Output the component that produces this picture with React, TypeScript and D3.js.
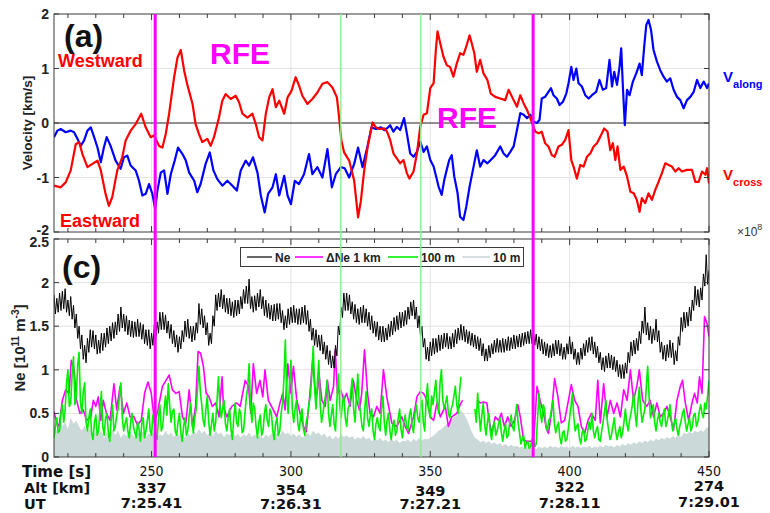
import React from "react";
import * as d3 from "d3";

// ---- data -------------------------------------------------------------
const timeTicks = [250, 300, 350, 400, 450];
const altLabels = ["337", "354", "349", "322", "274"];
const utLabels = ["7:25.41", "7:26.31", "7:27.21", "7:28.11", "7:29.01"];
const rfeEdges = [251.3, 386.9];
const boundaryTimes = [317.9, 346.6];

// velocity components [time s, km/s]
const vCross: [number, number][] = [
  [215.0, -1.15], [217.4, -1.18], [219.2, -1.09], [221.0, -0.87], [222.8, -0.39], [224.0, -0.35], [225.2, -0.57],
  [227.0, -0.81], [228.8, -0.75], [230.6, -0.69], [231.8, -0.87], [233.5, -1.3], [234.7, -1.52], [235.9, -1.36],
  [237.7, -0.87], [239.5, -0.63], [240.7, -0.32], [242.5, -0.14], [244.3, -0.02], [246.3, 0.17], [247.9, -0.08],
  [249.7, -0.26], [250.9, -0.23], [252.7, -0.42], [253.9, -0.45], [255.1, -0.2], [256.3, 0.17], [258.1, 0.84],
  [259.3, 1.2], [260.5, 1.34], [261.7, 0.96], [262.9, 0.69], [264.7, 0.35], [265.8, -0.02], [267.0, -0.2],
  [268.2, -0.35], [270.0, -0.29], [271.2, -0.42], [272.4, -0.26], [274.2, 0.1], [275.4, 0.41], [276.6, 0.53],
  [278.4, 0.44], [280.2, 0.5], [281.4, 0.38], [282.6, 0.17], [284.4, 0.1], [286.2, 0.17], [287.4, -0.02],
  [288.6, -0.26], [289.8, -0.32], [291.0, 0.17], [292.2, 0.47], [293.4, 0.62], [294.6, 0.29], [295.8, 0.41],
  [297.6, 0.17], [298.8, 0.47], [300.2, 0.59], [301.7, 0.84], [302.9, 0.69], [304.1, 0.5], [305.9, 0.35],
  [307.7, 0.44], [309.5, 0.56], [311.3, 0.72], [313.1, 0.75], [314.9, 0.65], [316.5, 0.47], [317.3, 0.1],
  [318.1, -0.32], [319.1, -0.54], [320.9, -0.69], [322.7, -1.06], [324.1, -1.73], [325.1, -1.43], [326.3, -0.87],
  [327.5, -0.45], [329.3, 0.01], [330.5, -0.08], [331.7, -0.11], [333.5, -0.1], [334.4, -0.15], [335.6, -0.31],
  [336.8, -0.56], [338.0, -0.65], [339.2, -0.74], [340.4, -0.68], [341.6, -0.92], [342.5, -1.02], [344.0, -0.89],
  [345.2, -0.56], [346.4, -0.07], [347.6, 0.15], [348.8, 0.18], [350.0, 0.64], [351.2, 0.73], [352.0, 1.34],
  [352.6, 1.68], [353.6, 1.46], [354.7, 1.22], [355.9, 1.06], [357.1, 1.03], [358.3, 0.85], [359.5, 1.09],
  [360.7, 1.28], [361.9, 1.25], [362.9, 1.4], [364.1, 1.61], [364.9, 1.46], [365.8, 1.28], [366.7, 0.94],
  [367.9, 1.16], [369.1, 0.91], [370.5, 0.79], [371.7, 0.54], [373.3, 0.48], [375.1, 0.45], [376.9, 0.42],
  [378.1, 0.61], [379.9, 0.42], [381.1, 0.3], [382.3, 0.51], [383.5, 0.36], [384.7, 0.24], [385.9, 0.09],
  [386.8, -0.04], [387.7, -0.16], [388.9, -0.19], [390.0, -0.16], [391.2, -0.37], [392.4, -0.43], [393.6, -0.59],
  [394.6, -0.62], [396.0, -0.43], [397.2, -0.4], [398.4, -0.31], [399.6, -0.13], [400.6, -0.68], [401.4, -0.8],
  [402.6, -1.02], [403.8, -0.77], [405.0, -0.8], [406.2, -0.62], [407.4, -0.56], [408.6, -0.43], [409.8, -0.37],
  [411.0, -0.25], [412.4, -0.1], [413.6, -0.16], [414.6, -0.5], [415.5, -0.37], [416.4, -0.68], [417.2, -0.43],
  [418.2, -0.86], [419.4, -0.8], [420.6, -0.98], [421.8, -1.26], [423.0, -1.29], [424.1, -1.41], [425.1, -1.63],
  [425.9, -1.38], [427.1, -1.47], [428.3, -1.29], [429.5, -1.41], [430.7, -1.23], [431.9, -1.08], [433.1, -0.92],
  [434.3, -0.74], [435.5, -0.77], [436.7, -0.8], [437.9, -0.89], [439.1, -0.83], [440.3, -0.89], [442.1, -0.86],
  [443.9, -0.86], [445.1, -1.08], [446.3, -1.08], [447.5, -0.89], [448.7, -0.95], [449.3, -0.83], [450.0, -1.11],
];

const vAlong: [number, number][] = [
  [215.0, -0.26], [216.2, -0.14], [217.4, -0.11], [219.2, -0.17], [221.0, -0.14], [222.2, -0.17], [223.4, -0.29],
  [224.6, -0.42], [225.8, -0.32], [227.0, -0.14], [228.2, -0.08], [229.4, -0.26], [230.6, -0.45], [231.8, -0.72],
  [232.9, -0.45], [233.9, -0.26], [235.3, -0.42], [237.1, -0.69], [238.9, -0.84], [240.1, -0.63], [241.3, -0.6],
  [242.5, -0.78], [244.3, -0.87], [245.5, -1.06], [246.7, -1.33], [247.9, -1.3], [249.1, -1.12], [250.3, -1.3],
  [251.3, -1.58], [252.1, -1.24], [253.3, -0.91], [254.5, -0.87], [255.7, -1.3], [256.9, -0.94], [258.3, -0.69],
  [259.5, -0.45], [261.1, -0.57], [262.3, -0.69], [263.5, -0.91], [265.3, -1.06], [266.4, -1.27], [267.6, -1.12],
  [269.4, -0.75], [270.9, -0.54], [272.2, -0.87], [273.6, -1.03], [275.4, -1.15], [277.2, -1.06], [279.0, -1.15],
  [280.6, -1.24], [282.0, -0.87], [283.8, -0.69], [285.0, -0.78], [286.4, -0.63], [288.0, -0.91], [289.2, -1.33],
  [290.6, -1.64], [291.8, -1.3], [293.4, -1.18], [294.6, -0.94], [295.8, -1.33], [297.6, -0.97], [298.8, -1.33],
  [300.0, -1.49], [301.4, -1.06], [302.9, -1.12], [304.7, -0.94], [306.5, -0.57], [307.7, -0.94], [309.5, -0.81],
  [311.3, -1.0], [313.1, -0.48], [314.7, -1.18], [316.1, -0.94], [317.9, -0.81], [319.3, -0.83], [320.9, -1.0],
  [322.7, -0.75], [324.1, -0.45], [325.7, -0.81], [327.5, -0.42], [328.9, -0.08], [330.5, -0.11], [332.3, -0.08],
  [333.5, -0.13], [334.4, -0.1], [335.6, -0.04], [336.8, -0.16], [338.0, -0.07], [339.2, -0.13], [340.6, 0.09],
  [341.6, -0.19], [342.8, -0.56], [344.0, -0.62], [345.2, -0.53], [346.4, -0.34], [347.6, -0.53], [348.8, -0.43],
  [350.0, -0.68], [351.2, -0.8], [352.1, -0.98], [353.0, -1.17], [354.1, -1.32], [355.0, -1.05], [355.9, -0.86],
  [356.8, -0.68], [357.7, -0.59], [358.6, -0.98], [359.8, -1.29], [360.7, -1.72], [361.9, -1.78], [362.9, -1.54],
  [364.1, -1.17], [365.3, -0.86], [366.7, -0.5], [367.9, -0.8], [369.1, -0.68], [370.5, -0.74], [371.7, -0.68],
  [373.3, -0.59], [375.1, -0.43], [376.3, -0.56], [377.5, -0.62], [378.7, -0.53], [379.9, -0.43], [381.1, -0.13],
  [382.3, 0.18], [383.5, 0.15], [384.7, 0.09], [385.9, 0.15], [387.1, 0.02], [388.3, 0.0], [389.2, 0.06],
  [390.0, 0.45], [391.2, 0.48], [392.4, 0.57], [393.3, 0.64], [394.2, 0.51], [395.4, 0.45], [396.4, 0.33],
  [397.6, 0.39], [398.8, 0.54], [399.6, 0.73], [400.6, 1.03], [401.4, 0.79], [402.4, 1.0], [403.2, 0.73],
  [404.4, 0.67], [405.6, 0.51], [406.8, 0.45], [408.0, 0.51], [409.5, 0.57], [410.7, 0.79], [411.9, 0.61],
  [413.1, 0.64], [414.3, 1.16], [415.2, 0.67], [416.0, 0.94], [417.0, 0.7], [417.9, 1.03], [418.5, 1.37],
  [419.1, 0.67], [419.8, -0.04], [420.6, 0.61], [421.5, 0.51], [422.7, 0.76], [423.9, 0.91], [425.1, 1.09],
  [425.9, 0.88], [426.8, 1.43], [427.5, 1.8], [428.3, 1.89], [429.2, 1.71], [430.1, 1.34], [431.3, 1.13],
  [432.5, 0.97], [433.7, 0.85], [434.9, 0.76], [436.1, 0.82], [437.3, 0.61], [438.5, 0.48], [439.7, 0.42],
  [440.9, 0.27], [442.1, 0.42], [443.3, 0.48], [444.5, 0.57], [445.7, 0.79], [446.9, 0.64], [448.1, 0.76],
  [449.3, 0.64], [450.0, 0.73],
];

// electron density band: upper excursions at whole seconds from t0,
// lower excursions half a second later
const t0 = 215;
const neHigh: number[] = [
  1.86, 1.82, 1.88, 1.9, 1.93, 1.8, 1.84, 1.74, 1.64, 1.5,
  1.4, 1.28, 1.36, 1.46, 1.45, 1.4, 1.34, 1.42, 1.42, 1.48,
  1.5, 1.54, 1.55, 1.64, 1.72, 1.64, 1.62, 1.57, 1.56, 1.55,
  1.58, 1.54, 1.52, 1.46, 1.46, 1.42, 1.52, 1.55, 1.66, 1.66,
  1.63, 1.56, 1.52, 1.45, 1.4, 1.38, 1.45, 1.56, 1.58, 1.5,
  1.5, 1.54, 1.76, 1.7, 1.62, 1.54, 1.42, 1.62, 1.86, 1.88,
  1.92, 1.86, 1.82, 1.82, 1.78, 1.8, 1.8, 1.84, 1.92, 1.96,
  2.04, 1.84, 1.85, 1.88, 1.92, 1.84, 1.8, 1.76, 1.74, 1.75,
  1.76, 1.76, 1.68, 1.62, 1.7, 1.72, 1.74, 1.7, 1.7, 1.72,
  1.74, 1.68, 1.58, 1.48, 1.46, 1.4, 1.4, 1.32, 1.28, 1.22,
  1.16, 1.28, 1.5, 1.72, 1.88, 1.88, 1.86, 1.78, 1.75, 1.7,
  1.72, 1.74, 1.7, 1.66, 1.62, 1.56, 1.55, 1.5, 1.5, 1.48,
  1.52, 1.56, 1.6, 1.62, 1.66, 1.66, 1.68, 1.72, 1.78, 1.8,
  1.72, 1.62, 1.5, 1.36, 1.26, 1.32, 1.36, 1.36, 1.4, 1.4,
  1.42, 1.42, 1.38, 1.42, 1.46, 1.48, 1.52, 1.5, 1.46, 1.44,
  1.42, 1.4, 1.38, 1.36, 1.3, 1.24, 1.28, 1.3, 1.34, 1.36,
  1.34, 1.36, 1.35, 1.38, 1.37, 1.4, 1.39, 1.41, 1.42, 1.43,
  1.44, 1.46, 1.44, 1.41, 1.38, 1.35, 1.32, 1.3, 1.28, 1.3,
  1.34, 1.34, 1.3, 1.26, 1.3, 1.38, 1.32, 1.24, 1.2, 1.25,
  1.3, 1.34, 1.37, 1.38, 1.32, 1.27, 1.2, 1.14, 1.16, 1.19,
  1.17, 1.15, 1.11, 1.06, 1.06, 1.08, 1.2, 1.32, 1.34, 1.36,
  1.44, 1.56, 1.72, 1.54, 1.5, 1.47, 1.58, 1.45, 1.32, 1.28,
  1.29, 1.34, 1.31, 1.22, 1.38, 1.6, 1.66, 1.66, 1.72, 1.8,
  1.96, 1.92, 1.94, 2.1, 2.32, 2.14,
];
const neLow: number[] = [
  1.64, 1.66, 1.68, 1.7, 1.66, 1.62, 1.58, 1.48, 1.36, 1.24,
  1.12, 1.08, 1.2, 1.26, 1.24, 1.18, 1.19, 1.22, 1.26, 1.3,
  1.33, 1.36, 1.4, 1.44, 1.48, 1.44, 1.4, 1.38, 1.37, 1.38,
  1.38, 1.35, 1.3, 1.28, 1.24, 1.28, 1.34, 1.42, 1.46, 1.46,
  1.42, 1.36, 1.3, 1.26, 1.2, 1.24, 1.32, 1.38, 1.36, 1.32,
  1.34, 1.42, 1.52, 1.48, 1.4, 1.28, 1.3, 1.5, 1.68, 1.72,
  1.7, 1.66, 1.64, 1.62, 1.6, 1.62, 1.64, 1.7, 1.76, 1.76,
  1.7, 1.66, 1.68, 1.72, 1.7, 1.62, 1.6, 1.58, 1.56, 1.56,
  1.58, 1.54, 1.46, 1.48, 1.52, 1.54, 1.54, 1.52, 1.52, 1.54,
  1.52, 1.44, 1.34, 1.28, 1.26, 1.22, 1.18, 1.12, 1.06, 1.02,
  1.02, 1.16, 1.4, 1.6, 1.68, 1.68, 1.64, 1.58, 1.54, 1.52,
  1.54, 1.54, 1.5, 1.46, 1.42, 1.38, 1.34, 1.32, 1.32, 1.34,
  1.38, 1.4, 1.44, 1.46, 1.48, 1.5, 1.52, 1.58, 1.62, 1.58,
  1.48, 1.38, 1.26, 1.12, 1.1, 1.16, 1.18, 1.2, 1.22, 1.24,
  1.26, 1.24, 1.24, 1.26, 1.3, 1.34, 1.34, 1.32, 1.3, 1.28,
  1.26, 1.24, 1.22, 1.16, 1.1, 1.1, 1.14, 1.18, 1.2, 1.2,
  1.2, 1.2, 1.22, 1.22, 1.24, 1.24, 1.26, 1.26, 1.28, 1.3,
  1.3, 1.3, 1.28, 1.24, 1.22, 1.18, 1.16, 1.14, 1.14, 1.16,
  1.18, 1.16, 1.12, 1.12, 1.18, 1.18, 1.12, 1.06, 1.06, 1.12,
  1.16, 1.2, 1.22, 1.18, 1.14, 1.08, 1.0, 0.98, 1.02, 1.02,
  1.0, 0.98, 0.92, 0.9, 0.9, 0.96, 1.08, 1.16, 1.18, 1.22,
  1.3, 1.42, 1.4, 1.34, 1.3, 1.34, 1.32, 1.2, 1.12, 1.1,
  1.14, 1.14, 1.06, 1.1, 1.28, 1.44, 1.48, 1.5, 1.56, 1.68,
  1.74, 1.72, 1.8, 1.96, 1.98,
];

// 100 m fluctuation: whole-second samples and half-second samples (null = gap)
const dNe100m: (number | null)[] = [
  0.22, 0.45, 0.3, 0.6, 0.55, 1.0, 0.62, 1.15, 0.7, 1.2, 0.5, 0.85,
  0.3, 0.55, 0.2, 0.48, 0.3, 0.75, 0.25, 0.5, 0.18, 0.6, 0.35, 0.55, 0.85, 0.3, 0.45, 0.22, 0.5, 0.28, 0.4, 0.18,
  0.45, 0.3, 0.55, 0.25,
  0.4, 0.2, 0.6, 0.35, 0.7, 0.84, 0.4, 0.55,
  0.25, 0.5, 0.18, 0.45, 0.3, 0.62, 0.28, 0.55, 1.04, 0.6,
  0.35, 0.7, 0.25, 0.5, 0.4, 0.92, 0.45, 0.65,
  0.3, 0.55, 0.2, 0.62, 0.35, 0.5, 0.3, 0.68, 1.07, 0.4, 0.55, 0.22, 0.48, 0.3,
  0.6, 0.35, 0.5, 0.2, 0.45, 0.3, 0.62, 1.34, 0.5, 1.11,
  0.4, 0.65, 0.3, 0.55, 0.25, 0.48, 0.7, 1.27, 0.55, 1.11,
  0.4, 0.62, 0.88, 0.35, 0.6, 0.3, 0.95, 0.45, 0.7, 0.35,
  0.6, 0.9, 0.4, 0.95, 0.5, 0.3, 0.75, 0.35, 0.55, 0.2,
  0.45, 0.3, 0.7, 0.25, 0.5, 0.2, 0.42, 0.3, 0.55, 0.22,
  0.48, 0.3, 0.55, 0.28, 0.6, 0.4, 0.65, 0.3, 0.84, 0.45,
  0.6, 0.88, 0.5, 1.0, 0.55, 0.7, 0.45, 0.6, 0.81, 0.5, 0.92,
  null, null, null, null,
  0.55, 0.73, 0.3, 0.62, 0.25, 0.5, 0.2, 0.4, 0.3, 0.45, 0.18, 0.38, 0.25, 0.48, 0.3,
  0.6, 0.28, 0.2, 0.1, 0.18, 0.12, 0.22, 0.15,
  0.73, 0.4, 0.55, 0.3, 0.45, 0.65,
  0.28, 0.4, 0.15, 0.3, 0.2, 0.45, 0.73, 0.3, 0.38, 0.15, 0.32, 0.2, 0.4, 0.5, 0.22, 0.35,
  0.18, 0.4, 0.65, 0.3, 0.25, 0.45, 0.2, 0.35, 0.28, 0.55,
  0.3, 0.5, 0.73, 0.35, 0.8, 0.4, 0.55, 1.04, 0.45, 0.6,
  0.3, 0.5, 0.35, 0.55, 0.4, 0.6, 0.3, 0.45, 0.25, 0.42,
  0.55, 0.3, 0.45, 0.35, 0.5, 0.4, 0.6, 0.45, 0.55, 0.88,
];
const dNe100mHalf: (number | null)[] = [
  0.35, 0.28, 0.5, 0.4, 0.85, 0.58, 0.95, 0.6, 1.05, 0.62, 0.75, 0.4,
  0.45, 0.28, 0.4, 0.25, 0.55, 0.35, 0.45, 0.28, 0.42, 0.3, 0.48, 0.7, 0.45, 0.38, 0.3, 0.4, 0.35, 0.22, 0.32, 0.38,
  0.22, 0.42, 0.3, 0.48,
  0.28, 0.45, 0.3, 0.55, 0.48, 0.6, 0.52, 0.3,
  0.4, 0.28, 0.35, 0.25, 0.48, 0.4, 0.45, 0.78, 0.75, 0.42,
  0.55, 0.4, 0.38, 0.3, 0.65, 0.6, 0.55, 0.38,
  0.45, 0.32, 0.45, 0.4, 0.55, 0.28, 0.5, 0.8, 0.6, 0.62, 0.35, 0.4, 0.25, 0.5,
  0.42, 0.55, 0.3, 0.38, 0.25, 0.5, 0.9, 0.7, 0.85, 0.55,
  0.55, 0.38, 0.48, 0.32, 0.4, 0.62, 0.95, 0.8, 0.85, 0.6,
  0.5, 0.72, 0.5, 0.48, 0.38, 0.65, 0.6, 0.62, 0.45, 0.55,
  0.75, 0.55, 0.7, 0.62, 0.35, 0.55, 0.45, 0.48, 0.3, 0.38,
  0.35, 0.55, 0.4, 0.42, 0.3, 0.35, 0.25, 0.45, 0.32, 0.4,
  0.35, 0.48, 0.35, 0.5, 0.45, 0.55, 0.4, 0.65, 0.55, 0.7,
  0.75, 0.62, 0.85, 0.65, 0.62, 0.5, 0.55, 0.7, 0.6, 0.75, null,
  null, null, null, null,
  0.4, 0.5, 0.48, 0.38, 0.4, 0.3, 0.35, 0.25, 0.38, 0.28, 0.3, 0.22, 0.4, 0.35, 0.45,
  0.4, 0.15, 0.25, 0.16, 0.1, 0.2, 0.12, 0.45,
  0.5, 0.6, 0.35, 0.42, 0.55, 0.4,
  0.35, 0.22, 0.28, 0.18, 0.32, 0.58, 0.45, 0.35, 0.22, 0.28, 0.18, 0.3, 0.32, 0.3, 0.3, 0.2,
  0.3, 0.52, 0.42, 0.2, 0.35, 0.3, 0.28, 0.22, 0.4, 0.38,
  0.42, 0.6, 0.5, 0.62, 0.55, 0.48, 0.8, 0.7, 0.52, 0.4,
  0.42, 0.4, 0.48, 0.35, 0.5, 0.42, 0.38, 0.32, 0.35, 0.5,
  0.4, 0.38, 0.3, 0.48, 0.35, 0.52, 0.5, 0.62, 0.7,
];

// 10 m fluctuation, once per second from t0
const dNe10m: number[] = [
  0.38, 0.3, 0.42, 0.35, 0.4, 0.32, 0.45, 0.38, 0.42, 0.35, 0.3, 0.36, 0.28, 0.33, 0.25, 0.3,
  0.26, 0.3, 0.22, 0.28, 0.24, 0.32, 0.25, 0.3, 0.22, 0.27, 0.24, 0.3, 0.26, 0.22, 0.28, 0.25, 0.3, 0.23, 0.27, 0.25,
  0.29, 0.22, 0.26, 0.24, 0.3, 0.25, 0.28, 0.23, 0.27, 0.24,
  0.26, 0.22, 0.28, 0.24, 0.3, 0.26, 0.32, 0.27, 0.3, 0.25, 0.28, 0.24, 0.3, 0.26, 0.28, 0.23, 0.27, 0.25, 0.29, 0.24,
  0.27, 0.22, 0.26, 0.24, 0.28, 0.23, 0.26, 0.22, 0.25, 0.21, 0.26, 0.23, 0.27, 0.24, 0.28, 0.25, 0.3, 0.26, 0.28, 0.24,
  0.27, 0.23, 0.26, 0.22, 0.25, 0.28, 0.24, 0.3, 0.26, 0.28, 0.24, 0.27, 0.22, 0.25, 0.2, 0.24, 0.21, 0.26, 0.23, 0.25,
  0.22, 0.24, 0.2, 0.23, 0.21, 0.24, 0.2, 0.22, 0.18, 0.21, 0.19, 0.22, 0.18, 0.2, 0.17, 0.21, 0.18, 0.2, 0.16, 0.19,
  0.18, 0.2, 0.17, 0.21, 0.18, 0.22, 0.19, 0.21, 0.2, 0.22,
  0.24, 0.27, 0.3, 0.32, 0.35, 0.38, 0.4, 0.44, 0.47, 0.5, 0.54, 0.5, 0.44, 0.36, 0.28, 0.22,
  0.2, 0.17, 0.19, 0.16,
  0.18, 0.15, 0.17, 0.14, 0.16, 0.13, 0.15, 0.12, 0.14, 0.12, 0.13, 0.11, 0.12, 0.1, 0.12, 0.1, 0.11, 0.09, 0.12, 0.1,
  0.12, 0.1, 0.13, 0.11, 0.12, 0.1, 0.13, 0.11, 0.12, 0.1, 0.13, 0.11, 0.12, 0.1, 0.12, 0.11, 0.13, 0.1, 0.12, 0.11,
  0.13, 0.11, 0.14, 0.12, 0.13, 0.11, 0.14, 0.12, 0.15, 0.13, 0.16, 0.14, 0.17, 0.15, 0.18, 0.16, 0.19, 0.17, 0.2, 0.18,
  0.21, 0.19, 0.22, 0.2, 0.23, 0.21, 0.24, 0.22, 0.25, 0.23, 0.28, 0.26, 0.29, 0.27, 0.3, 0.28, 0.31, 0.29, 0.33, 0.35,
];

// 1 km fluctuation [time s, value]; null marks the data gap
const dNe1km: [number, number | null][] = [
  [215.0, 0.52], [216.0, 0.39], [216.8, 0.35], [218.0, 0.65], [219.2, 0.77], [220.4, 0.73], [221.2, 1.11],
  [222.2, 1.0], [223.1, 0.65], [224.3, 0.5], [225.5, 0.54], [226.7, 0.42], [228.2, 0.46], [229.1, 0.65],
  [230.0, 0.58], [230.9, 0.69], [231.8, 0.42], [232.7, 0.65], [233.8, 0.5], [235.1, 0.42], [236.5, 0.84],
  [237.5, 0.54], [238.7, 0.81], [239.9, 0.5], [241.1, 0.62], [242.3, 0.46], [243.7, 0.46], [244.9, 0.37],
  [246.3, 0.42], [247.5, 0.73], [248.7, 0.86], [249.9, 0.73], [251.1, 0.39], [252.3, 0.54], [253.9, 0.81],
  [256.3, 0.94], [257.5, 0.77], [258.7, 0.73], [259.9, 0.75], [261.1, 0.46], [262.3, 0.39], [263.5, 0.77],
  [264.7, 0.35], [265.8, 0.58], [266.7, 1.21], [267.6, 1.19], [268.6, 1.04], [269.6, 0.73], [270.6, 0.69],
  [271.8, 0.58], [273.0, 0.62], [274.2, 0.46], [275.3, 0.92], [275.8, 0.58], [277.0, 0.46], [278.8, 0.58],
  [280.6, 0.62], [281.8, 0.58], [283.6, 0.88], [284.8, 0.81], [285.6, 0.5], [286.5, 1.07], [287.7, 0.73],
  [288.9, 0.88], [289.9, 0.69], [290.7, 1.0], [291.9, 0.65], [293.7, 0.54], [294.9, 0.46], [296.1, 0.62],
  [297.1, 0.73], [297.9, 0.54], [298.9, 1.07], [300.0, 0.73], [300.9, 1.04], [302.1, 0.65], [303.3, 0.5],
  [304.5, 0.35], [305.5, 0.29], [306.6, 0.65], [307.8, 1.11], [309.0, 0.65], [310.2, 0.92], [311.1, 0.65],
  [312.3, 0.58], [313.1, 0.88], [314.1, 0.65], [315.3, 0.81], [315.9, 1.23], [316.7, 0.73], [317.9, 0.77],
  [318.9, 0.65], [320.0, 0.73], [321.2, 0.58], [322.4, 0.88], [323.6, 0.65], [324.6, 0.54], [325.4, 0.73],
  [326.4, 1.23], [327.5, 0.73], [328.4, 0.5], [329.6, 0.46], [330.8, 0.58], [332.0, 0.5], [333.2, 1.0],
  [334.4, 0.69], [336.2, 0.39], [338.0, 0.35], [339.8, 0.46], [341.0, 0.35], [342.2, 0.27], [344.0, 0.46],
  [345.2, 0.69], [346.4, 0.75], [347.6, 0.73], [348.8, 0.65], [350.0, 0.46], [351.2, 0.42], [352.4, 0.62],
  [353.6, 0.46], [355.4, 0.58], [356.5, 0.35], [357.7, 0.46], [359.5, 0.5], [360.7, 0.6], [361.6, 0.65],
  [364.0, null],
  [366.7, 0.65], [367.9, 0.62], [369.1, 0.63], [370.3, 0.62], [371.1, 0.42], [372.1, 0.27], [373.3, 0.46],
  [374.5, 0.42], [375.5, 0.5], [376.6, 0.35], [377.8, 0.46], [379.0, 0.35], [380.2, 0.42], [381.4, 0.6],
  [382.3, 0.46], [383.5, 0.19], [384.7, 0.18], [385.9, 0.18], [387.1, 0.19], [388.3, 0.81], [389.4, 0.65],
  [390.6, 0.5], [391.8, 0.31], [392.4, 0.27], [393.6, 0.54], [394.6, 0.9], [395.8, 0.69], [397.0, 0.39],
  [398.2, 0.42], [399.4, 0.62], [400.6, 0.83], [401.8, 0.65], [403.0, 0.58], [404.2, 0.35], [405.4, 0.27],
  [406.6, 0.42], [407.8, 0.5], [409.2, 0.42], [410.1, 0.88], [411.0, 0.39], [412.2, 0.84], [413.4, 0.46],
  [414.6, 0.65], [415.8, 0.5], [417.0, 0.62], [418.2, 0.46], [419.4, 0.77], [420.6, 0.65], [421.8, 1.0],
  [422.9, 0.65], [424.1, 0.81], [425.0, 1.0], [426.2, 0.65], [427.7, 0.58], [428.9, 0.65], [430.1, 0.46],
  [431.3, 0.62], [432.5, 0.46], [433.7, 0.5], [434.9, 0.58], [436.1, 0.46], [437.3, 0.31], [438.5, 0.65],
  [439.7, 0.81], [440.5, 0.88], [441.5, 0.62], [442.7, 0.42], [443.9, 0.62], [444.8, 0.73], [445.8, 0.62],
  [446.6, 0.92], [447.5, 0.73], [448.4, 1.61], [449.3, 1.53], [450.0, 1.38],
];

// ---- layout -------------------------------------------------------------
const W = 770;
const H = 513;
const L = 54;
const R = 709;
const topA = 14;
const botA = 232;
const topC = 239;
const botC = 457;

const sans = "'Liberation Sans', Arial, Helvetica, sans-serif";
const dv = "'DejaVu Sans', sans-serif";
const cond = "'DejaVu Sans Condensed', 'DejaVu Sans', sans-serif";

const RED = "#ff0000";
const BLUE = "#0000ff";
const MAG = "#ff00ff";
const GREEN = "#00ee00";
const GREY10 = "#ccd9d9";
const GRID = "#e3e3e3";
const AXIS = "#3a3a3a";

// interleave whole-second and half-second samples into [t, v] pairs
function interleave(whole: (number | null)[], half: (number | null)[]): [number, number | null][] {
  const out: [number, number | null][] = [];
  whole.forEach((v, i) => {
    out.push([t0 + i, v]);
    if (i < half.length) out.push([t0 + i + 0.5, half[i]]);
  });
  return out;
}

export default function App() {
  const x = d3.scaleLinear().domain([215, 450]).range([L, R]);
  const yV = d3.scaleLinear().domain([-2, 2]).range([botA, topA]);
  const yN = d3.scaleLinear().domain([0, 2.5]).range([botC, topC]);

  const velLine = d3
    .line<[number, number]>()
    .x((d) => x(d[0]))
    .y((d) => yV(d[1]));

  const nLine = d3
    .line<[number, number | null]>()
    .defined((d) => d[1] != null)
    .x((d) => x(d[0]))
    .y((d) => yN(d[1] as number));

  const area10 = d3
    .area<number>()
    .x((_, i) => x(t0 + i))
    .y0(yN(0))
    .y1((d) => yN(d));

  const neSeries = interleave(neHigh, neLow);
  const greenSeries = interleave(dNe100m, dNe100mHalf);

  const minor = d3.range(220, 451, 10);
  const vTicks = [-2, -1, 0, 1, 2];
  const nTicks = [0, 0.5, 1, 1.5, 2, 2.5];

  const frameTicks = (top: number, bot: number, yTicks: number[], ys: (v: number) => number) => (
    <g stroke={AXIS} strokeWidth={1}>
      {minor.map((t) => {
        const len = t % 50 === 0 ? 6 : 4;
        return (
          <g key={t}>
            <line x1={x(t)} x2={x(t)} y1={bot} y2={bot - len} />
            <line x1={x(t)} x2={x(t)} y1={top} y2={top + len} />
          </g>
        );
      })}
      {yTicks.map((v) => (
        <g key={v}>
          <line x1={L} x2={L + 5} y1={ys(v)} y2={ys(v)} />
          <line x1={R} x2={R - 5} y1={ys(v)} y2={ys(v)} />
        </g>
      ))}
    </g>
  );

  return (
    <svg
      width={W}
      height={H}
      viewBox={`0 0 ${W} ${H}`}
      style={{ position: "absolute", left: 0, top: 0, background: "#fff" }}
    >
      <defs>
        <clipPath id="clipA">
          <rect x={L} y={topA} width={R - L} height={botA - topA} />
        </clipPath>
        <clipPath id="clipC">
          <rect x={L} y={topC} width={R - L} height={botC - topC} />
        </clipPath>
      </defs>
      <rect x={0} y={0} width={W} height={H} fill="#fff" />

      {/* ---- panel (a): velocities ---- */}
      <g>
        {timeTicks.map((t) => (
          <line key={t} x1={x(t)} x2={x(t)} y1={topA} y2={botA} stroke={GRID} strokeWidth={1} />
        ))}
        {[-1, 1].map((v) => (
          <line key={v} x1={L} x2={R} y1={yV(v)} y2={yV(v)} stroke={GRID} strokeWidth={1} />
        ))}
        <line x1={L} x2={R} y1={yV(0)} y2={yV(0)} stroke="#222" strokeWidth={1} />
        <g clipPath="url(#clipA)" fill="none" strokeLinejoin="round">
          <path d={velLine(vAlong) ?? ""} stroke={BLUE} strokeWidth={2.2} />
          <path d={velLine(vCross) ?? ""} stroke={RED} strokeWidth={2.2} />
        </g>
        <rect x={L} y={topA} width={R - L} height={botA - topA} fill="none" stroke={AXIS} strokeWidth={1} />
        {frameTicks(topA, botA, vTicks, yV)}
        <g fontFamily={sans} fontWeight="bold" fontSize={14} fill="#222" textAnchor="end">
          {vTicks.map((v) => (
            <text key={v} x={49} y={yV(v) + (v === -2 ? 3 : 5)}>
              {v}
            </text>
          ))}
        </g>
        <text
          transform={`translate(32,${yV(0)}) rotate(-90)`}
          textAnchor="middle"
          fontFamily={sans}
          fontWeight="bold"
          fontSize={13.5}
          fill="#222"
        >
          Velocity [km/s]
        </text>
        <text x={64} y={47} fontFamily={sans} fontWeight="bold" fontSize={32} fill="#111">
          (a)
        </text>
        <text x={58} y={67} fontFamily={sans} fontWeight="bold" fontSize={18} fill={RED}>
          Westward
        </text>
        <text x={60} y={227} fontFamily={sans} fontWeight="bold" fontSize={18} fill={RED}>
          Eastward
        </text>
        <text x={210} y={64} fontFamily={sans} fontWeight="bold" fontSize={30} fill={MAG}>
          RFE
        </text>
        <text x={437} y={128} fontFamily={sans} fontWeight="bold" fontSize={30} fill={MAG}>
          RFE
        </text>
        <text x={723} y={82} fontFamily={sans} fontWeight="bold" fontSize={15} fill={BLUE}>
          V
          <tspan fontSize={11} dy={6}>
            along
          </tspan>
        </text>
        <text x={723} y={180} fontFamily={sans} fontWeight="bold" fontSize={15} fill={RED}>
          V
          <tspan fontSize={11} dy={6}>
            cross
          </tspan>
        </text>
      </g>

      {/* ---- panel (c): density ---- */}
      <g>
        {timeTicks.map((t) => (
          <line key={t} x1={x(t)} x2={x(t)} y1={topC} y2={botC} stroke={GRID} strokeWidth={1} />
        ))}
        {[0.5, 1, 1.5, 2].map((v) => (
          <line key={v} x1={L} x2={R} y1={yN(v)} y2={yN(v)} stroke={GRID} strokeWidth={1} />
        ))}
        <g clipPath="url(#clipC)" fill="none" strokeLinejoin="round">
          <path d={area10(dNe10m) ?? ""} fill={GREY10} stroke="none" />
          <path d={nLine(dNe1km) ?? ""} stroke={MAG} strokeWidth={1.6} />
          <path d={nLine(greenSeries) ?? ""} stroke={GREEN} strokeWidth={1.6} />
          <path d={nLine(neSeries) ?? ""} stroke="#000" strokeWidth={1} />
        </g>
        <rect x={L} y={topC} width={R - L} height={botC - topC} fill="none" stroke={AXIS} strokeWidth={1} />
        {frameTicks(topC, botC, nTicks, yN)}
        <g fontFamily={sans} fontWeight="bold" fontSize={14} fill="#222" textAnchor="end">
          {nTicks.map((v) => (
            <text key={v} x={49} y={yN(v) + (v === 2.5 ? 8 : 5)}>
              {v}
            </text>
          ))}
        </g>
        <text
          transform={`translate(25,${yN(1.25)}) rotate(-90)`}
          textAnchor="middle"
          fontFamily={sans}
          fontWeight="bold"
          fontSize={15}
          fill="#222"
        >
          Ne [10
          <tspan fontSize={10} dy={-6}>
            11
          </tspan>
          <tspan dy={6}> m</tspan>
          <tspan fontSize={10} dy={-6}>
            -3
          </tspan>
          <tspan dy={6}>]</tspan>
        </text>
        <text x={62} y={278} fontFamily={sans} fontWeight="bold" fontSize={32} fill="#111">
          (c)
        </text>
        <text x={737} y={236} fontFamily={sans} fontSize={12} fill="#333">
          ×10
          <tspan fontSize={9} dy={-6}>
            8
          </tspan>
        </text>

        {/* legend */}
        <g fontFamily={sans} fontWeight="bold" fontSize={12} fill="#222">
          <rect x={240.5} y={247.5} width={283} height={19} fill="#fff" stroke={AXIS} strokeWidth={1} />
          <line x1={247} x2={272} y1={257} y2={257} stroke="#000" strokeWidth={1.2} />
          <text x={275} y={262}>Ne</text>
          <line x1={295} x2={323} y1={257} y2={257} stroke={MAG} strokeWidth={1.6} />
          <text x={326} y={262}>ΔNe 1 km</text>
          <line x1={388} x2={418} y1={257} y2={257} stroke={GREEN} strokeWidth={1.6} />
          <text x={421} y={262}>100 m</text>
          <line x1={462} x2={490} y1={257} y2={257} stroke={GREY10} strokeWidth={1.6} />
          <text x={493} y={262}>10 m</text>
        </g>
      </g>

      {/* event markers spanning both panels */}
      {boundaryTimes.map((t) => (
        <line key={t} x1={x(t)} x2={x(t)} y1={topA} y2={botC} stroke="#8cee8c" strokeWidth={1.4} />
      ))}
      {rfeEdges.map((t) => (
        <line key={t} x1={x(t)} x2={x(t)} y1={topA} y2={botC} stroke={MAG} strokeWidth={3} />
      ))}

      {/* time / altitude / UT rows */}
      <g fill="#111">
        <text x={22} y={477} fontFamily={dv} fontWeight="bold" fontSize={15}>
          Time [s]
        </text>
        <text x={24} y={493} fontFamily={dv} fontWeight="bold" fontSize={14.5}>
          Alt [km]
        </text>
        <text x={24} y={509} fontFamily={dv} fontWeight="bold" fontSize={14.5}>
          UT
        </text>
        {timeTicks.map((t) => (
          <text key={t} x={x(t)} y={476} textAnchor="middle" fontFamily={cond} fontSize={14}>
            {t}
          </text>
        ))}
        {timeTicks.map((t, i) => (
          <text
            key={t}
            x={x(t)}
            y={[493, 495, 496, 492, 491][i]}
            textAnchor="middle"
            fontFamily={dv}
            fontWeight="bold"
            fontSize={14.5}
          >
            {altLabels[i]}
          </text>
        ))}
        {timeTicks.map((t, i) => (
          <text
            key={t}
            x={x(t)}
            y={[508, 509, 509, 508, 507][i]}
            textAnchor="middle"
            fontFamily={dv}
            fontWeight="bold"
            fontSize={14.5}
          >
            {utLabels[i]}
          </text>
        ))}
      </g>
    </svg>
  );
}
